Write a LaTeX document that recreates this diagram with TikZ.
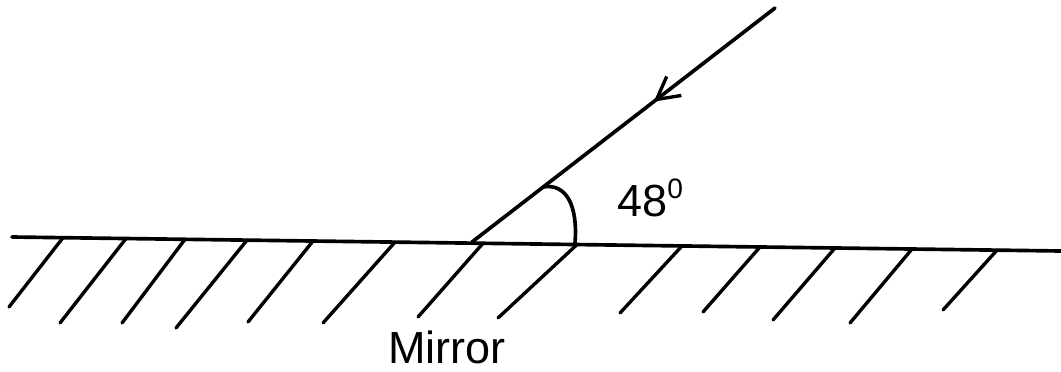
\documentclass[tikz,border=0pt]{standalone}
\usepackage{fontspec}
\setmainfont{Liberation Sans}
\usetikzlibrary{arrows.meta,decorations.markings,calc}

\begin{document}
\begin{tikzpicture}[x=0.025cm, y=-0.025cm,
    ray/.style = {line width=2.6pt, line cap=round},
    hatch/.style = {line width=2.4pt, line cap=round},
    lbl/.style = {font=\fontsize{32}{38}\selectfont, inner sep=0pt, anchor=base west}]
        \useasboundingbox (0,0) rectangle (1061,371);
        \coordinate (mL) at (12,237);
        \coordinate (mR) at (1061,251);
        \coordinate (O) at (472,242);
        \coordinate (src) at (775,8);
        \coordinate (a1) at (543,187);
        \coordinate (a2) at (575,243);
        \draw[ray] (mL) -- (mR);
        \foreach \t/\b/\y in {63/9/307, 126/60/323, 185/122/323, 247/176/328,
            313/248/322, 395/323/323, 483/418/317, 577/498/318, 682/620/313,
            760/703/312, 835/773/320, 912/850/323, 997/943/310}
            \draw[hatch] (\t,{237+(\t-12)*0.01335}) -- (\b,\y);
        \draw[ray, postaction={decorate}, decoration={markings,
            mark=at position 0.4 with {\arrow{Straight Barb[length=5.5mm, width=6mm, line width=2.4pt]}}}]
            (src) -- (O);
        \draw[ray] (a1) .. controls (566,183) and (578,205) .. (a2);
        \node[lbl] (ang) at (617,216) {48\raisebox{0.45cm}{\fontsize{20}{24}\selectfont 0}};
        \node[lbl] (mirror) at (388,363) {Mirror};
      \end{tikzpicture}
\end{document}
